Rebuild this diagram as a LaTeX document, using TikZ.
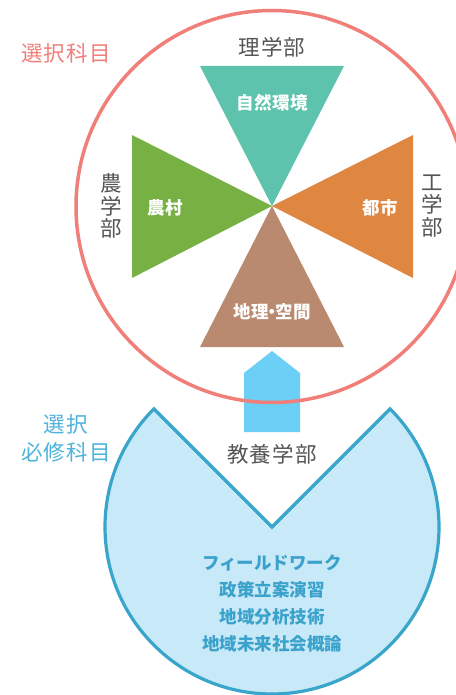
\documentclass[tikz,border=0pt]{standalone}
\usepackage{fontspec}
\newfontfamily\cjk[LetterSpace=5]{Noto Sans CJK JP}
\newfontfamily\cjkb[LetterSpace=3]{Noto Sans CJK JP}
\newfontfamily\cjkl{Noto Sans CJK JP}
\definecolor{ringred}{HTML}{F07F7A}
\definecolor{teal}{HTML}{5DC3AD}
\definecolor{leaf}{HTML}{78B143}
\definecolor{orng}{HTML}{DF8641}
\definecolor{brwn}{HTML}{B98A70}
\definecolor{arrowblue}{HTML}{6CCFF6}
\definecolor{pacfill}{HTML}{C8E9F8}
\definecolor{pacline}{HTML}{3AA5CB}
\definecolor{pactext}{HTML}{3BA2CC}
\definecolor{sidetext}{HTML}{4DB3DB}
\definecolor{graytext}{HTML}{555555}
\tikzset{
  big/.style={font=\cjk\fontsize{21.5}{22}\selectfont, text=graytext, inner sep=0pt},
  wlabel/.style={font=\cjkb\bfseries\fontsize{17.5}{18}\selectfont, text=white, inner sep=0pt},
  vlabel/.style={font=\cjk\fontsize{21.5}{22.5}\selectfont, text=graytext, align=center, inner sep=0pt},
  listlabel/.style={font=\cjkl\bfseries\fontsize{17.5}{27}\selectfont, text=pactext, align=center, inner sep=0pt},
}
\begin{document}
\begin{tikzpicture}[x=1pt,y=-1pt]
\useasboundingbox (0,0) rectangle (455,695);
\fill[white] (0,0) rectangle (455,695);
% blue pac-man
\coordinate (pc) at (272,527);
\draw[pacline, fill=pacfill, line width=3.2pt, line join=miter]
  (pc) -- ++(-45:167) arc[start angle=-45, end angle=225, radius=167] -- cycle;
% arrow
\fill[arrowblue] (244,432) -- (244,373) -- (272,351) -- (300,373) -- (300,432) -- cycle;
% red ring
\node[circle, draw=ringred, line width=3.5pt, minimum size=392pt, inner sep=0pt] (ring) at (272,206.5) {};
% triangles
\coordinate (c) at (272,206);
\fill[teal] (c) -- (200,66) -- (344,66) -- cycle;
\fill[brwn] (c) -- (200,347) -- (344,347) -- cycle;
\fill[leaf] (c) -- (132,135) -- (132,278) -- cycle;
\fill[orng] (c) -- (413,135) -- (413,278) -- cycle;
% labels
\node[big] (rigaku) at (272,47) {理学部};
\node[big, text=ringred] (sentaku) at (66,53) {選択科目};
\node[vlabel] (nogaku) at (111,206) {農\\学\\部};
\node[vlabel] (kogaku) at (432,206) {工\\学\\部};
\node[wlabel] (shizen) at (272,103) {自然環境};
\node[wlabel] (noson) at (165,208) {農村};
\node[wlabel] (toshi) at (380,208) {都市};
\node[wlabel] (chiri) at (272,312) {地理\kern-0.32em・\kern-0.32em空間};
\node[big] (kyoyo) at (272,454) {教養学部};
\node[big, text=sidetext, align=center, font=\cjk\fontsize{21.5}{28}\selectfont] (hisshu) at (66,438) {選択\\必修科目};
\node[listlabel] (list) at (272,603) {フィールドワーク\\政策立案演習\\地域分析技術\\地域未来社会概論};
\end{tikzpicture}
\end{document}
